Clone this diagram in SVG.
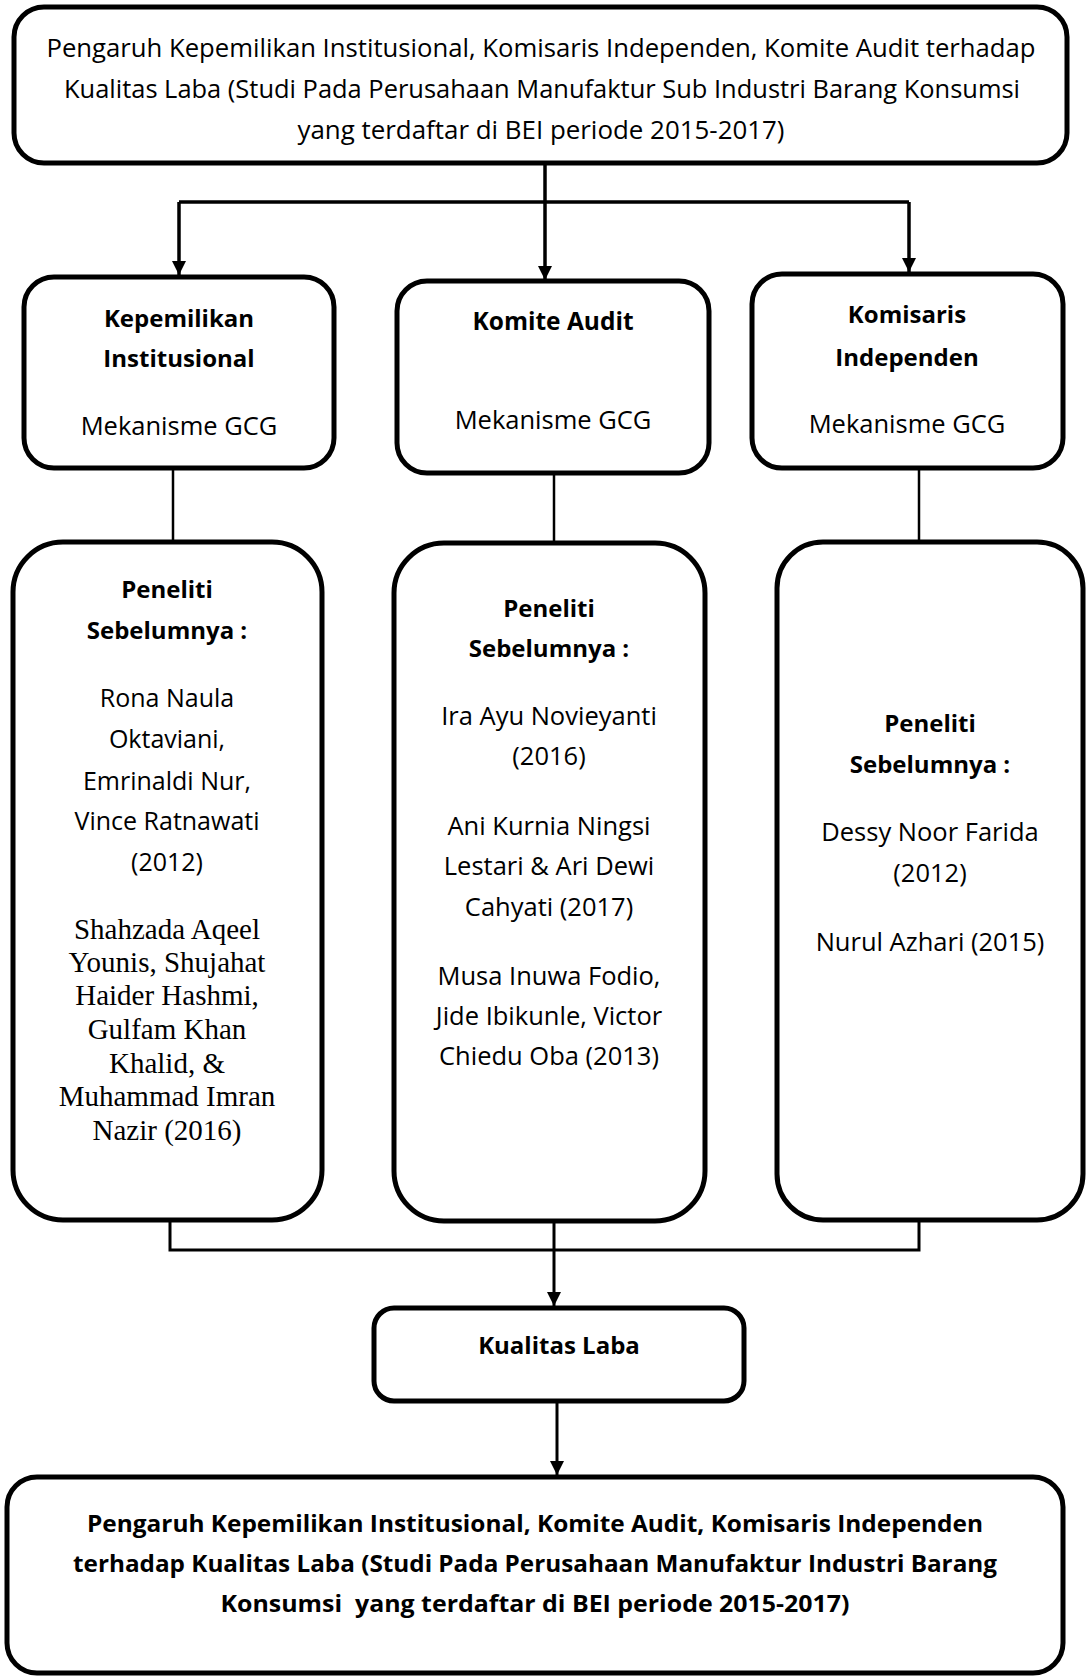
<svg xmlns="http://www.w3.org/2000/svg" width="1086" height="1677" viewBox="0 0 1086 1677">
<style>
.box{fill:#fff;stroke:#000;stroke-width:5}
.t{font-family:"Open Sans","Liberation Sans",sans-serif;fill:#000;text-anchor:middle}
.b{font-weight:bold}
.s{font-family:"Liberation Serif","Times New Roman",serif;fill:#000;text-anchor:middle;font-size:29px}
.c{fill:none;stroke:#000}
</style>
<defs>
<marker id="ah" viewBox="0 0 14 14" refX="14" refY="7" markerWidth="14" markerHeight="14" markerUnits="userSpaceOnUse" orient="auto">
<path d="M0,0 L14,7 L0,14 z" fill="#000"/>
</marker>
</defs>
<rect width="1086" height="1677" fill="#fff"/>
<g id="connectors">
<path class="c" stroke-width="3.5" d="M545,163 V280" marker-end="url(#ah)"/>
<path class="c" stroke-width="3.5" d="M179,202 H909"/>
<path class="c" stroke-width="3.5" d="M179,202 V275" marker-end="url(#ah)"/>
<path class="c" stroke-width="3.5" d="M909,202 V272" marker-end="url(#ah)"/>
<path class="c" stroke-width="2.5" d="M173,468 V542"/>
<path class="c" stroke-width="2.5" d="M554,473 V543"/>
<path class="c" stroke-width="2.5" d="M919,468 V542"/>
<path class="c" stroke-width="3" d="M170,1215 V1250 H919 V1218"/>
<path class="c" stroke-width="3" d="M554,1215 V1306" marker-end="url(#ah)"/>
<path class="c" stroke-width="3" d="M557,1401 V1475" marker-end="url(#ah)"/>
</g>
<g id="top">
<rect class="box" x="14" y="7" width="1053" height="156" rx="30"/>
<text class="t" font-size="25" x="541" y="57" textLength="989" lengthAdjust="spacingAndGlyphs">Pengaruh Kepemilikan Institusional, Komisaris Independen, Komite Audit terhadap</text>
<text class="t" font-size="25" x="542" y="98" textLength="956" lengthAdjust="spacingAndGlyphs">Kualitas Laba (Studi Pada Perusahaan Manufaktur Sub Industri Barang Konsumsi</text>
<text class="t" font-size="25" x="541" y="139" textLength="487" lengthAdjust="spacingAndGlyphs">yang terdaftar di BEI periode 2015-2017)</text>
</g>
<g id="kepemilikan">
<rect class="box" x="24" y="277" width="310" height="191" rx="30"/>
<text class="t b" font-size="24" x="179" y="327">Kepemilikan</text>
<text class="t b" font-size="24" x="179" y="367">Institusional</text>
<text class="t" font-size="25.5" x="179" y="435">Mekanisme GCG</text>
</g>
<g id="komite">
<rect class="box" x="397" y="281" width="312" height="192" rx="30"/>
<text class="t b" font-size="24.5" x="553" y="330">Komite Audit</text>
<text class="t" font-size="25.5" x="553" y="429">Mekanisme GCG</text>
</g>
<g id="komisaris">
<rect class="box" x="752" y="274" width="311" height="194" rx="30"/>
<text class="t b" font-size="24" x="907" y="323">Komisaris</text>
<text class="t b" font-size="24" x="907" y="366">Independen</text>
<text class="t" font-size="25.5" x="907" y="433">Mekanisme GCG</text>
</g>
<g id="peneliti1">
<rect class="box" x="13" y="542" width="309" height="678" rx="50"/>
<text class="t b" font-size="24" x="167" y="598">Peneliti</text>
<text class="t b" font-size="24" x="167" y="639">Sebelumnya :</text>
<text class="t" font-size="25" x="167" y="707">Rona Naula</text>
<text class="t" font-size="25" x="167" y="748">Oktaviani,</text>
<text class="t" font-size="25" x="167" y="790">Emrinaldi Nur,</text>
<text class="t" font-size="25" x="167" y="830">Vince Ratnawati</text>
<text class="t" font-size="25" x="167" y="871">(2012)</text>
<text class="s" x="167" y="939">Shahzada Aqeel</text>
<text class="s" x="167" y="972">Younis, Shujahat</text>
<text class="s" x="167" y="1005">Haider Hashmi,</text>
<text class="s" x="167" y="1039">Gulfam Khan</text>
<text class="s" x="167" y="1073">Khalid, &amp;</text>
<text class="s" x="167" y="1106">Muhammad Imran</text>
<text class="s" x="167" y="1140">Nazir (2016)</text>
</g>
<g id="peneliti2">
<rect class="box" x="394" y="543" width="311" height="678" rx="50"/>
<text class="t b" font-size="24" x="549" y="617">Peneliti</text>
<text class="t b" font-size="24" x="549" y="657">Sebelumnya :</text>
<text class="t" font-size="25.5" x="549" y="725">Ira Ayu Novieyanti</text>
<text class="t" font-size="25.5" x="549" y="765">(2016)</text>
<text class="t" font-size="25.5" x="549" y="835">Ani Kurnia Ningsi</text>
<text class="t" font-size="25.5" x="549" y="875">Lestari &amp; Ari Dewi</text>
<text class="t" font-size="25.5" x="549" y="916">Cahyati (2017)</text>
<text class="t" font-size="25.5" x="549" y="985">Musa Inuwa Fodio,</text>
<text class="t" font-size="25.5" x="549" y="1025">Jide Ibikunle, Victor</text>
<text class="t" font-size="25.5" x="549" y="1065">Chiedu Oba (2013)</text>
</g>
<g id="peneliti3">
<rect class="box" x="777" y="542" width="306" height="678" rx="46"/>
<text class="t b" font-size="24" x="930" y="732">Peneliti</text>
<text class="t b" font-size="24" x="930" y="773">Sebelumnya :</text>
<text class="t" font-size="25.5" x="930" y="841">Dessy Noor Farida</text>
<text class="t" font-size="25.5" x="930" y="882">(2012)</text>
<text class="t" font-size="25.5" x="930" y="951">Nurul Azhari (2015)</text>
</g>
<g id="kualitas">
<rect class="box" x="374" y="1308" width="370" height="93" rx="20"/>
<text class="t b" font-size="24" x="559" y="1354">Kualitas Laba</text>
</g>
<g id="bottom">
<rect class="box" x="7" y="1477" width="1056" height="196" rx="30"/>
<text class="t b" font-size="24" x="535" y="1532" textLength="896" lengthAdjust="spacingAndGlyphs">Pengaruh Kepemilikan Institusional, Komite Audit, Komisaris Independen</text>
<text class="t b" font-size="24" x="535" y="1572" textLength="924" lengthAdjust="spacingAndGlyphs">terhadap Kualitas Laba (Studi Pada Perusahaan Manufaktur Industri Barang</text>
<text class="t b" font-size="24" x="535" y="1612" textLength="629" lengthAdjust="spacingAndGlyphs" style="white-space:pre">Konsumsi  yang terdaftar di BEI periode 2015-2017)</text>
</g>
</svg>
